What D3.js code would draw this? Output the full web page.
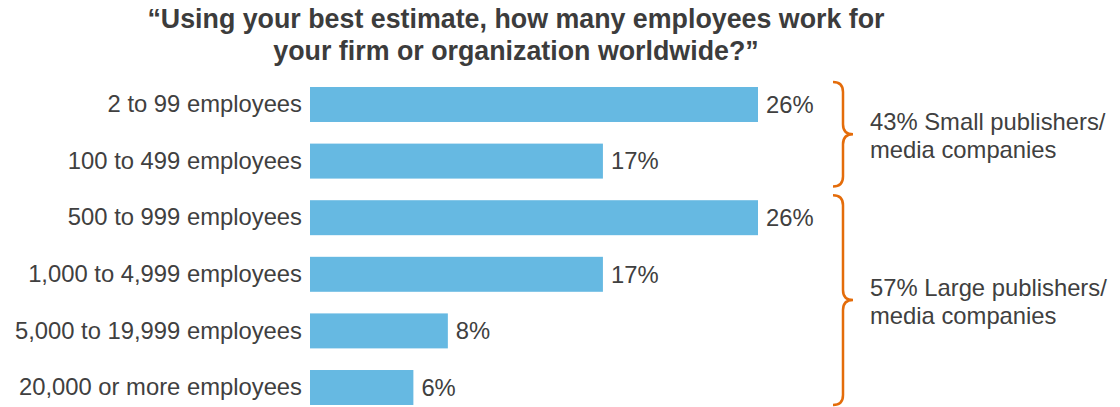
<!DOCTYPE html>
<html>
<head>
<meta charset="utf-8">
<script src="https://cdn.jsdelivr.net/npm/d3@7"></script>
<style>
  html, body { margin: 0; padding: 0; background: #ffffff; }
  svg { display: block; font-family: "Liberation Sans", Arial, sans-serif; }
</style>
</head>
<body>
<svg id="chart" width="1120" height="407"></svg>
<script>
// Survey answers: company size vs. share of respondents (%)
const categories = [
  "2 to 99 employees",
  "100 to 499 employees",
  "500 to 999 employees",
  "1,000 to 4,999 employees",
  "5,000 to 19,999 employees",
  "20,000 or more employees"
];
const values = [26, 17, 26, 17, 8, 6];

const titleLines = [
  "\u201CUsing your best estimate, how many employees work for",
  "your firm or organization worldwide?\u201D"
];

// Size groups marked with braces on the right
const groupFirst = [0, 2];
const groupLast = [1, 5];
const groupLabels = [
  ["43% Small publishers/", "media companies"],
  ["57% Large publishers/", "media companies"]
];

const W = 1120, H = 407;
const barColor = "#66b9e2";
const textColor = "#404040";
const braceColor = "#e46c0a";

const svg = d3.select("#chart");

// Title
svg.append("g")
  .selectAll("text")
  .data(titleLines)
  .join("text")
  .attr("x", 516)
  .attr("y", (d, i) => 28 + i * 32)
  .attr("text-anchor", "middle")
  .attr("font-size", 26.8)
  .attr("font-weight", "bold")
  .attr("fill", "#3c3c3c")
  .text(d => d);

// Scales
const x = d3.scaleLinear().domain([0, 26]).range([310, 758]);
const y = d3.scaleBand()
  .domain(categories)
  .range([76.2, 415.8])
  .paddingInner(0.382)
  .paddingOuter(0.191);

// Bars
svg.append("g")
  .selectAll("rect")
  .data(values)
  .join("rect")
  .attr("x", x(0))
  .attr("y", (d, i) => y(categories[i]))
  .attr("width", d => x(d) - x(0))
  .attr("height", y.bandwidth())
  .attr("fill", barColor);

// Category labels (left axis without line/ticks)
const axis = svg.append("g")
  .attr("transform", `translate(${x(0)},0)`)
  .call(d3.axisLeft(y).tickSize(0).tickPadding(8));
axis.select(".domain").remove();
axis.selectAll("text")
  .attr("font-size", 23.8)
  .attr("font-family", "\"Liberation Sans\", Arial, sans-serif")
  .attr("fill", textColor);

// Value labels
svg.append("g")
  .selectAll("text")
  .data(values)
  .join("text")
  .attr("x", d => x(d) + 8)
  .attr("y", (d, i) => y(categories[i]) + y.bandwidth() / 2)
  .attr("dy", "0.35em")
  .attr("font-size", 23.8)
  .attr("fill", textColor)
  .text(d => d + "%");

// Braces with group annotations
const xEnd = 833, xMid = 843, xTip = 853, r = 10;
groupFirst.forEach((f, gi) => {
  const top = y(categories[f]) - 5;
  const bottom = Math.min(y(categories[groupLast[gi]]) + y.bandwidth() + 8, H - 2);
  const mid = (top + bottom) / 2;
  const p = d3.path();
  p.moveTo(xEnd, top);
  p.quadraticCurveTo(xMid, top, xMid, top + r);
  p.lineTo(xMid, mid - r);
  p.quadraticCurveTo(xMid, mid, xTip, mid);
  p.quadraticCurveTo(xMid, mid, xMid, mid + r);
  p.lineTo(xMid, bottom - r);
  p.quadraticCurveTo(xMid, bottom, xEnd, bottom);
  svg.append("path")
    .attr("d", p.toString())
    .attr("fill", "none")
    .attr("stroke", braceColor)
    .attr("stroke-width", 2.5);

  svg.append("g")
    .selectAll("text")
    .data(groupLabels[gi])
    .join("text")
    .attr("x", 870)
    .attr("y", (d, i) => mid - 4 + i * 28)
    .attr("font-size", 23.8)
    .attr("fill", textColor)
    .text(d => d);
});
</script>
</body>
</html>
